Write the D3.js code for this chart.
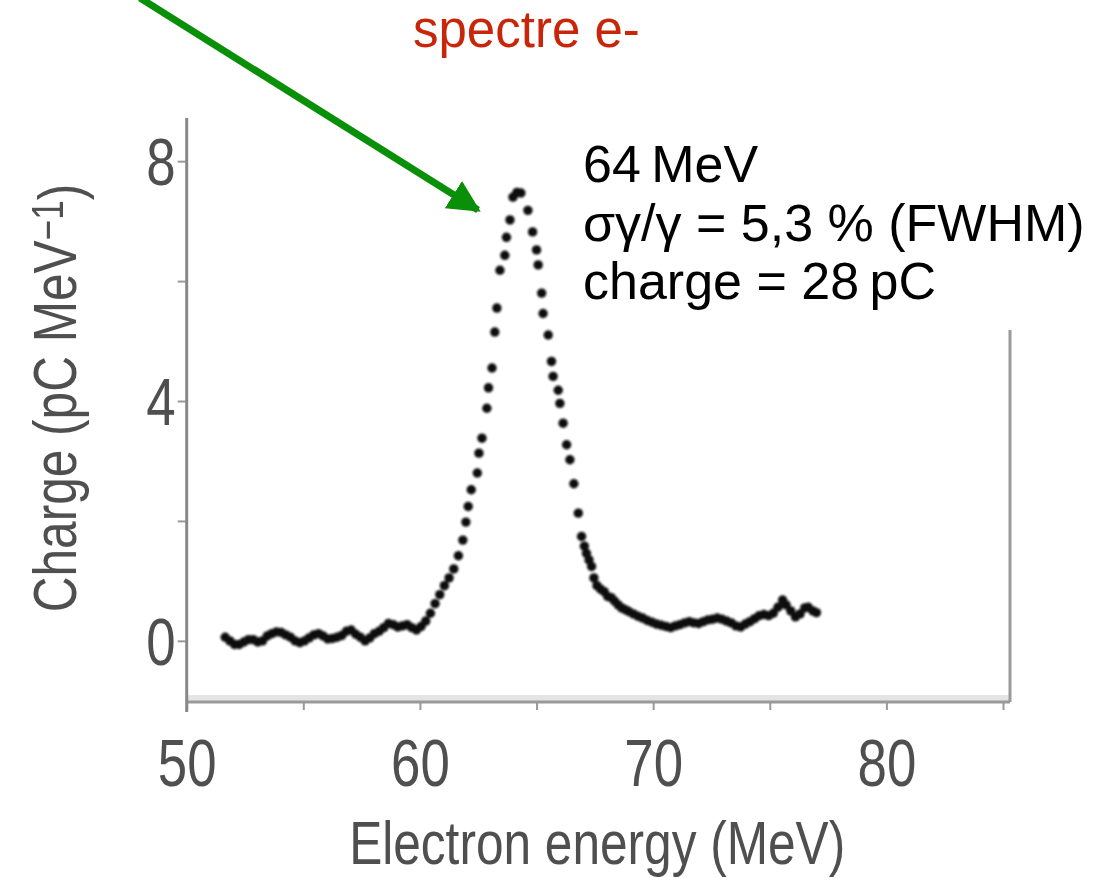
<!DOCTYPE html>
<html>
<head>
<meta charset="utf-8">
<script src="https://cdn.jsdelivr.net/npm/d3@7"></script>
<style>
  html, body { margin: 0; padding: 0; background: #fff; }
  svg { display: block; }
</style>
</head>
<body>
<div id="chart"></div>
<script>
/* electron spectrum, dotted trace */

// electron energy (MeV) of each measured point
var energies = [
  51.65, 51.85, 52.05, 52.25, 52.45, 52.65, 52.85, 53.05, 53.25, 53.45,
  53.65, 53.85, 54.05, 54.25, 54.45, 54.65, 54.85, 55.05, 55.25, 55.45,
  55.65, 55.85, 56.05, 56.25, 56.45, 56.65, 56.85, 57.05, 57.25, 57.45,
  57.65, 57.85, 58.05, 58.25, 58.45, 58.65, 58.85, 59.05, 59.25, 59.45,
  59.65, 59.85, 60.05, 60.25, 60.45, 60.65, 60.85, 61.05, 61.25, 61.45,
  61.65, 61.84, 61.97, 62.07, 62.2, 62.46, 62.53, 62.66, 62.87, 62.94,
  63.09, 63.21, 63.3, 63.43, 63.64, 63.71, 63.86, 63.99, 64.16, 64.33,
  64.63, 64.83, 65.0, 65.07, 65.22, 65.28, 65.5, 65.64, 65.71, 65.93,
  66.0, 66.14, 66.29, 66.43, 66.6, 66.79, 66.93, 67.05, 67.14, 67.25,
  67.36, 67.46, 67.59, 67.75, 67.9, 68.05, 68.2, 68.35, 68.5, 68.65,
  68.8, 68.95, 69.15, 69.35, 69.55, 69.75, 69.95, 70.15, 70.35, 70.55,
  70.75, 70.95, 71.15, 71.35, 71.55, 71.75, 71.95, 72.15, 72.35, 72.55,
  72.75, 72.95, 73.15, 73.35, 73.55, 73.75, 73.95, 74.15, 74.35, 74.55,
  74.75, 74.95, 75.15, 75.35, 75.55, 75.7, 75.9, 76.1, 76.3, 76.5,
  76.65, 76.85, 77.0
];

// charge (pC/MeV) read at each energy
var charges = [
  0.06, 0.0, -0.06, -0.06, -0.02, 0.02, 0.02, -0.02, 0.0, 0.08,
  0.12, 0.15, 0.14, 0.10, 0.06, 0.0, -0.03, 0.0, 0.05, 0.10,
  0.12, 0.08, 0.03, 0.04, 0.06, 0.09, 0.16, 0.18, 0.11, 0.06,
  0.0, 0.05, 0.12, 0.16, 0.22, 0.29, 0.27, 0.23, 0.25, 0.27,
  0.22, 0.18, 0.24, 0.33, 0.46, 0.62, 0.77, 0.92, 1.05, 1.2,
  1.42, 1.68, 1.98, 2.24, 2.52, 2.80, 3.13, 3.38, 3.88, 4.22,
  4.55, 5.15, 5.55, 6.18, 6.43, 6.73, 7.02, 7.40, 7.48, 7.47,
  7.18, 6.82, 6.52, 6.27, 5.80, 5.46, 5.10, 4.66, 4.41, 4.18,
  3.96, 3.63, 3.27, 3.02, 2.62, 2.13, 1.74, 1.58, 1.46, 1.35,
  1.24, 1.05, 0.92, 0.86, 0.82, 0.74, 0.72, 0.66, 0.60, 0.55,
  0.52, 0.49, 0.45, 0.41, 0.38, 0.34, 0.31, 0.28, 0.26, 0.24,
  0.22, 0.25, 0.27, 0.30, 0.32, 0.30, 0.29, 0.32, 0.35, 0.36,
  0.38, 0.36, 0.33, 0.30, 0.25, 0.23, 0.28, 0.32, 0.37, 0.42,
  0.44, 0.42, 0.46, 0.56, 0.68, 0.60, 0.50, 0.40, 0.45, 0.55,
  0.56, 0.50, 0.47
];

var xTicks = [50, 55, 60, 65, 70, 75, 80, 85];
var xLabels = [50, 60, 70, 80];
var yTicks = [0, 2, 4, 6, 8];
var yLabels = [0, 4, 8];

var noteLines = ['64\u2009MeV', '\u03c3\u03b3/\u03b3 = 5,3 % (FWHM)', 'charge = 28\u2009pC'];
var heading = 'spectre e-';

var width = 1093, height = 878;
var sans = '"Liberation Sans", Arial, Helvetica, sans-serif';
var squeeze = 0.8;   // the scanned figure uses a condensed face
var axisGrey = '#505050';

var svg = d3.select('#chart').append('svg')
  .attr('width', width)
  .attr('height', height);

var defs = svg.append('defs');
defs.append('filter').attr('id', 'soft')
  .append('feGaussianBlur').attr('stdDeviation', 0.8);
defs.append('filter').attr('id', 'softText')
  .append('feGaussianBlur').attr('stdDeviation', 0.5);
defs.append('marker')
  .attr('id', 'head')
  .attr('viewBox', '0 0 10 10')
  .attr('refX', 9).attr('refY', 5)
  .attr('markerWidth', 4.6).attr('markerHeight', 4.6)
  .attr('markerUnits', 'strokeWidth')
  .attr('orient', 'auto')
  .append('path')
  .attr('d', 'M0,0 L10,5 L0,10 Z')
  .attr('fill', '#0a8f08');

var x = d3.scaleLinear().domain([50, 85.3]).range([186.7, 1010]);
var y = d3.scaleLinear().domain([-1.02, 8.72]).range([702, 118]);

/* frame: bottom band, right border, left axis */
svg.append('rect')
  .attr('x', x(50)).attr('y', y(-1.02) - 7)
  .attr('width', x(85.3) - x(50)).attr('height', 7)
  .attr('fill', '#e4e4e4');
svg.append('line')
  .attr('x1', x(85.3)).attr('x2', x(85.3))
  .attr('y1', 330).attr('y2', y(-1.02))
  .attr('stroke', '#9a9a9a').attr('stroke-width', 3);

var xAxis = d3.axisBottom(x)
  .tickValues(xTicks)
  .tickSize(8)
  .tickPadding(29)
  .tickFormat(function(d) { return xLabels.indexOf(d) >= 0 ? d : ''; });

var gx = svg.append('g')
  .attr('transform', 'translate(0,' + y(-1.02) + ')')
  .call(xAxis);
gx.select('.domain').remove();
gx.selectAll('.tick line').attr('stroke', '#999').attr('stroke-width', 2);
gx.selectAll('.tick text')
  .attr('fill', axisGrey)
  .attr('filter', 'url(#softText)')
  .attr('transform', 'scale(' + squeeze + ',1)')
  .style('font-family', sans)
  .style('font-size', '66px');
svg.append('line')
  .attr('x1', x(50)).attr('x2', x(85.3))
  .attr('y1', y(-1.02)).attr('y2', y(-1.02))
  .attr('stroke', '#9a9a9a').attr('stroke-width', 3);

var yAxis = d3.axisLeft(y)
  .tickValues(yTicks)
  .tickSize(9)
  .tickFormat(function(d) { return yLabels.indexOf(d) >= 0 ? d : ''; });

var gy = svg.append('g')
  .attr('transform', 'translate(' + x(50) + ',0)')
  .call(yAxis);
gy.select('.domain').remove();
gy.selectAll('.tick line').attr('stroke', '#999').attr('stroke-width', 2);
gy.selectAll('.tick text')
  .attr('fill', axisGrey)
  .attr('filter', 'url(#softText)')
  .attr('x', -11 / squeeze)
  .attr('dy', '0.36em')
  .attr('transform', 'scale(' + squeeze + ',1)')
  .style('font-family', sans)
  .style('font-size', '66px');
svg.append('line')
  .attr('x1', x(50)).attr('x2', x(50))
  .attr('y1', y(8.72)).attr('y2', y(-1.02) + 10)
  .attr('stroke', '#888').attr('stroke-width', 3);

/* axis titles */
svg.append('text')
  .attr('transform', 'translate(' + x(67.6) + ',864) scale(' + squeeze + ',1)')
  .attr('text-anchor', 'middle')
  .attr('fill', axisGrey)
  .attr('filter', 'url(#softText)')
  .style('font-family', sans)
  .style('font-size', '62px')
  .text('Electron energy (MeV)');

var yTitle = svg.append('text')
  .attr('transform', 'translate(76,' + y(4.05) + ') rotate(-90) scale(' + squeeze + ',1)')
  .attr('text-anchor', 'middle')
  .attr('fill', axisGrey)
  .attr('filter', 'url(#softText)')
  .style('font-family', sans)
  .style('font-size', '62px');
yTitle.append('tspan').text('Charge (pC MeV');
yTitle.append('tspan').attr('dy', '-0.3em').style('font-size', '44px').text('\u22121');
yTitle.append('tspan').attr('dy', '0.3em').text(')');

/* data points */
var pts = energies.map(function(e, i) { return { e: e, q: charges[i] }; });
svg.append('g')
  .attr('filter', 'url(#soft)')
  .selectAll('circle')
  .data(pts)
  .enter()
  .append('circle')
  .attr('cx', function(d) { return x(d.e); })
  .attr('cy', function(d) { return y(d.q); })
  .attr('r', 4.7)
  .attr('fill', '#111');

/* annotation block */
svg.append('rect')
  .attr('x', 576).attr('y', 128)
  .attr('width', 517).attr('height', 202)
  .attr('fill', '#fff');
svg.append('g')
  .selectAll('text')
  .data(noteLines)
  .enter()
  .append('text')
  .attr('x', 583)
  .attr('y', function(d, i) { return 182 + i * 58.5; })
  .attr('fill', '#000')
  .style('font-family', sans)
  .style('font-size', '52px')
  .text(function(d) { return d; });

svg.append('text')
  .attr('x', 413).attr('y', 47)
  .attr('fill', '#c8260a')
  .style('font-family', sans)
  .style('font-size', '51px')
  .text(heading);

/* green pointer */
svg.append('line')
  .attr('x1', 140).attr('y1', -2)
  .attr('x2', 478).attr('y2', 210)
  .attr('stroke', '#0a8f08')
  .attr('stroke-width', 7)
  .attr('marker-end', 'url(#head)');
</script>
</body>
</html>
